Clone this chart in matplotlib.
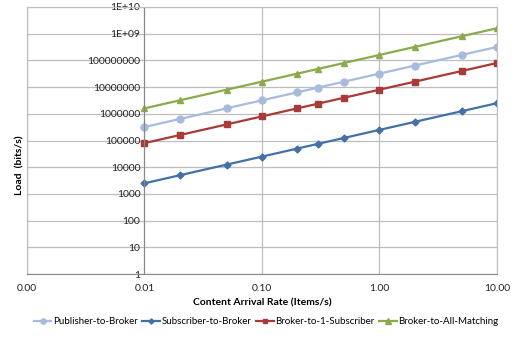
import matplotlib
matplotlib.use('Agg')
import matplotlib.pyplot as plt
from matplotlib.ticker import FixedLocator, FuncFormatter

plt.rcParams['font.family'] = ['Lato', 'DejaVu Sans']

rate = [0.01, 0.02, 0.05, 0.1, 0.2, 0.3, 0.5, 1, 2, 5, 10]
pub_to_broker = [3.2e5, 6.4e5, 1.6e6, 3.2e6, 6.4e6, 9.6e6, 1.6e7, 3.2e7, 6.4e7, 1.6e8, 3.2e8]
sub_to_broker = [2.5e3, 5e3, 1.25e4, 2.5e4, 5e4, 7.5e4, 1.25e5, 2.5e5, 5e5, 1.25e6, 2.5e6]
broker_to_1 = [8e4, 1.6e5, 4e5, 8e5, 1.6e6, 2.4e6, 4e6, 8e6, 1.6e7, 4e7, 8e7]
broker_to_all = [1.6e6, 3.2e6, 8e6, 1.6e7, 3.2e7, 4.8e7, 8e7, 1.6e8, 3.2e8, 8e8, 1.6e9]

x_ticks = [0.001, 0.01, 0.1, 1, 10]
y_ticks = [1, 10, 100, 1000, 1e4, 1e5, 1e6, 1e7, 1e8, 1e9, 1e10]
y_labels = ['1', '10', '100', '1000', '10000', '100000', '1000000',
            '10000000', '100000000', '1E+09', '1E+10']

fig = plt.figure(figsize=(5.16, 3.63), dpi=100)
ax = fig.add_axes([27 / 516, 1 - 274 / 363, 470 / 516, 267 / 363])

ax.plot(rate, pub_to_broker, color='#A7BBDC', marker='o', ms=5, lw=1.6,
        label='Publisher-to-Broker')
ax.plot(rate, sub_to_broker, color='#4470A8', marker='D', ms=3.5, lw=1.6,
        label='Subscriber-to-Broker')
ax.plot(rate, broker_to_1, color='#A83A37', marker='s', ms=4.5, lw=1.6,
        label='Broker-to-1-Subscriber')
ax.plot(rate, broker_to_all, color='#8AAA4C', marker='^', ms=5, lw=1.6,
        label='Broker-to-All-Matching')

ax.set_xscale('log')
ax.set_yscale('log')
ax.set_xlim(0.001, 10)
ax.set_ylim(1, 1e10)
ax.xaxis.set_major_locator(FixedLocator(x_ticks))
ax.xaxis.set_minor_locator(FixedLocator([]))
ax.xaxis.set_major_formatter(FuncFormatter(lambda v, p: '%.2f' % v))
ax.yaxis.set_major_locator(FixedLocator(y_ticks))
ax.yaxis.set_minor_locator(FixedLocator([]))
ax.set_yticklabels(y_labels)

ax.grid(True, color='#BEBEBE', lw=0.9)
ax.set_axisbelow(True)
for s in ['top', 'right']:
    ax.spines[s].set_color('#BEBEBE')
ax.spines['left'].set_position(('data', 0.01))
ax.spines['left'].set_color('#888888')
ax.spines['bottom'].set_color('#888888')
ax.plot([0.001, 0.001], [1, 1e10], color='#BEBEBE', lw=0.9, clip_on=False)

ax.tick_params(axis='both', length=0, labelsize=7.5, colors='#222222')
ax.tick_params(axis='x', pad=7)
ax.tick_params(axis='y', pad=3)

fig.text(20 / 516, 1 - 165 / 363, 'Load  (bits/s)', rotation=90, fontsize=7.5,
         fontweight='bold', ha='center', va='center')
fig.text(262 / 516, 1 - 303 / 363, 'Content Arrival Rate (Items/s)', fontsize=7.5,
         fontweight='bold', ha='center', va='center')

fig.legend(loc='center', bbox_to_anchor=(266 / 516, 1 - 322 / 363), ncol=4,
           frameon=False, fontsize=7, handlelength=1.8, handletextpad=0.15,
           columnspacing=0.5, markerscale=0.75, borderpad=0, borderaxespad=0)

fig.savefig('out.png', dpi=100)
